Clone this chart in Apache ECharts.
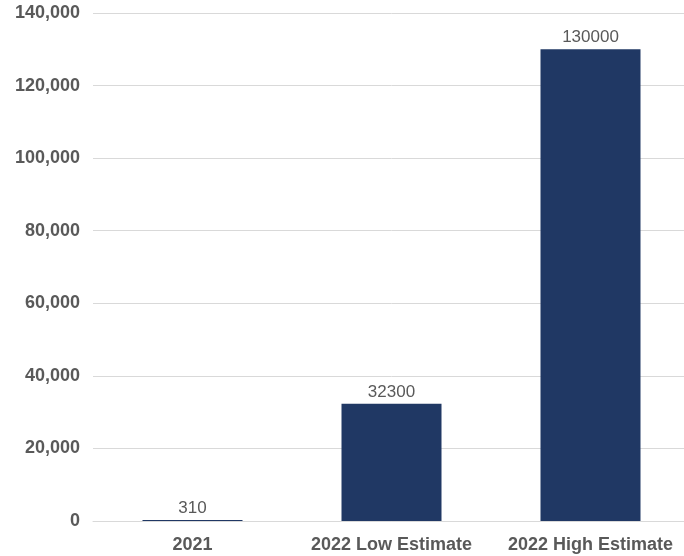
<!DOCTYPE html>
<html><head><meta charset="utf-8">
<script src="https://cdn.jsdelivr.net/npm/echarts@6/dist/echarts.min.js"></script>
<style>html,body{margin:0;padding:0;background:#fff;overflow:hidden}#c{width:700px;height:556px}</style>
</head><body><div id="c"></div>
<script>
const categories = ["2021", "2022 Low Estimate", "2022 High Estimate"];
const values = [310, 32300, 130000];
const yMin = 0, yMax = 140000, yStep = 20000;

const chart = echarts.init(document.getElementById('c'), null, {renderer: 'canvas'});
chart.setOption({
  animation: false,
  backgroundColor: '#ffffff',
  textStyle: {fontFamily: '"Liberation Sans", Arial, sans-serif'},
  grid: {left: 93, top: 13, width: 597, height: 508, containLabel: false},
  xAxis: {
    type: 'category', data: categories,
    axisLine: {show: true, lineStyle: {color: '#d9d9d9', width: 1}},
    axisTick: {show: false},
    axisLabel: {color: '#595959', fontWeight: 'bold', fontSize: 18, margin: 15, interval: 0, hideOverlap: false,
      fontFamily: '"Liberation Sans", Arial, sans-serif'}
  },
  yAxis: {
    type: 'value', min: yMin, max: yMax, interval: yStep,
    axisLine: {show: false}, axisTick: {show: false},
    splitLine: {lineStyle: {color: '#d9d9d9', width: 1}},
    axisLabel: {color: '#595959', fontWeight: 'bold', fontSize: 18, margin: 13,
      fontFamily: '"Liberation Sans", Arial, sans-serif',
      formatter: v => v.toLocaleString('en-US')}
  },
  series: [{
    type: 'bar', data: values, barWidth: 100,
    itemStyle: {color: '#203864'},
    label: {show: true, position: 'top', distance: 3, color: '#595959', fontSize: 17,
      fontFamily: '"Liberation Sans", Arial, sans-serif'}
  }]
});
</script></body></html>
